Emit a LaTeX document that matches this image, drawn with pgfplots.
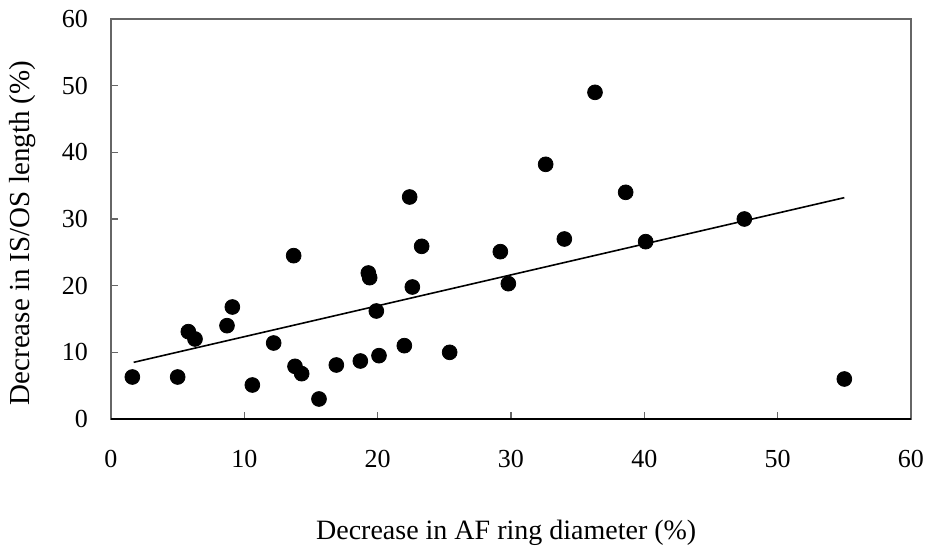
\documentclass[border=0pt]{standalone}
\usepackage{fontspec}
\setmainfont{Liberation Serif}
\usepackage{pgfplots}
\pgfplotsset{compat=1.18}

\pgfplotstableread{
x y
1.6 6.3
5.0 6.3
5.8 13.1
6.3 12.0
8.7 14.0
9.1 16.8
10.6 5.1
12.2 11.4
13.7 24.5
13.8 7.9
14.3 6.8
15.6 3.0
16.9 8.1
18.7 8.7
19.3 21.9
19.4 21.2
19.9 16.2
20.1 9.5
22.0 11.0
22.4 33.3
22.6 19.8
23.3 25.9
25.4 10.0
29.2 25.1
29.8 20.3
32.6 38.2
34.0 27.0
36.3 49.0
38.6 34.0
40.1 26.6
47.5 30.0
55.0 6.0
}\ifosdata

\begin{document}
\begin{tikzpicture}
\useasboundingbox (-55.5pt,-65pt) rectangle (407.5pt,209.5pt);
\begin{axis}[
    at={(0,0)}, anchor=south west,
    scale only axis,
    width=400pt, height=200pt,
    xmin=0, xmax=60, ymin=0, ymax=60,
    xtick={0,10,...,60}, ytick={0,10,...,60},
    tick align=inside,
    xtick pos=bottom, ytick pos=left,
    major tick length=3.5pt,
    tick style={black!60, line width=0.6pt},
    axis line style={black!60, line width=0.7pt},
    /pgf/number format/assume math mode=true,
    tick label style={font=\fontsize{13}{15}\selectfont},
    xticklabel style={yshift=-12pt},
    yticklabel style={xshift=-8pt},
    xlabel={Decrease in AF ring diameter (\%)},
    ylabel={Decrease in IS/OS length (\%)},
    xlabel style={font=\fontsize{14}{16}\selectfont,
        at={(axis description cs:0.494,-0.285)}, anchor=center},
    ylabel style={font=\fontsize{14.5}{16}\selectfont,
        at={(axis description cs:-0.111,0.465)}, anchor=center},
    clip=false,
]
\addplot[only marks, mark=*, mark size=3.7pt, black] table[x=x, y=y] {\ifosdata};
\addplot[black, line width=0.8pt] coordinates {(1.7,8.5) (55.0,33.2)};
\draw[black, line width=0.8pt] (rel axis cs:0,0) -- (rel axis cs:1,0);
\end{axis}
\end{tikzpicture}
\end{document}
